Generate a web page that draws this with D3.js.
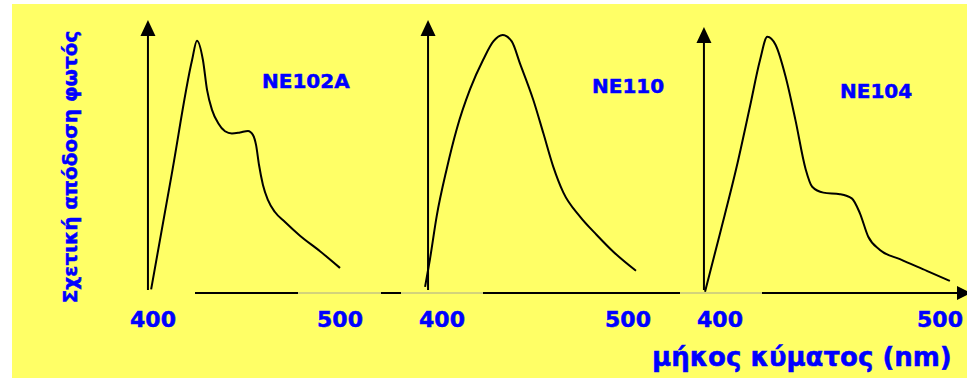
<!DOCTYPE html>
<html>
<head>
<meta charset="utf-8">
<script src="https://cdn.jsdelivr.net/npm/d3@7"></script>
<style>
  html, body { margin: 0; padding: 0; background: #ffffff; }
  svg { display: block; }
  text { paint-order: stroke; stroke: #0000ff; stroke-width: 0.5px; }
</style>
</head>
<body>
<svg id="chart" width="967" height="378"></svg>
<script>
// Emission spectra of three plastic scintillators (relative light yield vs wavelength, nm)
const scintillators = ["NE102A", "NE110", "NE104"];
const tickValues = [400, 500];
const yAxisTitle = "Σχετική απόδοση φωτός";
const xAxisTitle = "μήκος κύματος (nm)";

const ne102aWavelength = [399, 410, 420.9, 423.5, 426.7, 428.9, 431.6, 434.8, 438.5, 442.2, 446.5, 450.8, 453.5, 455.1, 456.7, 458.8, 461.5, 465.2, 470.6, 478.6, 489.3, 500];
const ne102aYield      = [0.014, 0.46, 0.903, 0.978, 0.903, 0.787, 0.709, 0.659, 0.627, 0.618, 0.622, 0.628, 0.612, 0.574, 0.496, 0.419, 0.36, 0.314, 0.275, 0.222, 0.162, 0.097];

const ne110Wavelength = [390.9, 393.5, 397.2, 402.5, 407.9, 415.1, 422.2, 427.6, 432.6, 437.5, 441.9, 449.1, 454.5, 459.8, 465.2, 474.2, 483.2, 492.1, 504.3];
const ne110Yield      = [0.024, 0.13, 0.30, 0.48, 0.635, 0.79, 0.905, 0.975, 1.0, 0.975, 0.89, 0.748, 0.619, 0.49, 0.39, 0.296, 0.225, 0.16, 0.086];

const ne104Wavelength = [393.2, 400, 407.6, 413.6, 418.2, 421.5, 425.3, 429.8, 434.3, 438.9, 441.9, 447, 454.5, 459.9, 463.6, 467.4, 472.7, 481.8, 494, 504.5];
const ne104Yield      = [0.005, 0.231, 0.49, 0.722, 0.903, 0.993, 0.961, 0.839, 0.67, 0.481, 0.412, 0.389, 0.383, 0.367, 0.309, 0.218, 0.167, 0.131, 0.086, 0.047];

// wavelength at which each panel's vertical axis stands
const yAxisWavelength = [397.3, 392.5, 392.7];

const spectra = [
  { name: scintillators[0], wl: ne102aWavelength, val: ne102aYield },
  { name: scintillators[1], wl: ne110Wavelength, val: ne110Yield },
  { name: scintillators[2], wl: ne104Wavelength, val: ne104Yield }
];

// ---- layout ----
const W = 967, H = 378;
const FONT = "'Comic Sans MS', 'DejaVu Sans', sans-serif";
const BLUE = "#0000ff";
const panels = [
  { x400: 153, x500: 340, axisTop: 20, label: [262, 88] },
  { x400: 442, x500: 628, axisTop: 20, label: [592, 93] },
  { x400: 720, x500: 940, axisTop: 27, label: [840, 98] }
];
const baseY = 293;
const y = d3.scaleLinear().domain([0, 1]).range([baseY, 35]);

const svg = d3.select("#chart");

svg.append("rect")
  .attr("x", 12).attr("y", 4)
  .attr("width", W - 12).attr("height", H - 4)
  .attr("fill", "#ffff66");

// horizontal wavelength axis: black line with faint grey stretches
const axisPieces = [
  [195, 298, "#000", 2], [298, 381, "#a8a890", 1], [381, 401, "#000", 2],
  [401, 483, "#a8a890", 1], [483, 680, "#000", 2], [680, 762, "#a8a890", 1],
  [762, 958, "#000", 2]
];
svg.append("g").selectAll("line").data(axisPieces).join("line")
  .attr("x1", d => d[0]).attr("x2", d => d[1])
  .attr("y1", baseY).attr("y2", baseY)
  .attr("stroke", d => d[2]).attr("stroke-width", d => d[3]);
svg.append("path")
  .attr("d", `M957,${baseY - 7} L971,${baseY} L957,${baseY + 7} Z`)
  .attr("fill", "#000");

const line = d3.line().curve(d3.curveMonotoneX);

spectra.forEach((s, i) => {
  const p = panels[i];
  const x = d3.scaleLinear().domain([400, 500]).range([p.x400, p.x500]);
  const g = svg.append("g");

  // vertical axis with arrowhead
  const ax = x(yAxisWavelength[i]);
  g.append("line")
    .attr("x1", ax).attr("x2", ax)
    .attr("y1", baseY - 3).attr("y2", p.axisTop + 12)
    .attr("stroke", "#000").attr("stroke-width", 2);
  g.append("path")
    .attr("d", `M${ax},${p.axisTop} L${ax + 7.5},${p.axisTop + 16} L${ax - 7.5},${p.axisTop + 16} Z`)
    .attr("fill", "#000");

  // spectrum curve
  const pts = s.wl.map((w, k) => [x(w), y(s.val[k])]);
  g.append("path")
    .attr("d", line(pts))
    .attr("fill", "none")
    .attr("stroke", "#000")
    .attr("stroke-width", 2)
    .attr("stroke-linejoin", "round");

  // tick labels
  g.selectAll("text.tick").data(tickValues).join("text")
    .attr("class", "tick")
    .attr("x", d => x(d))
    .attr("y", 327)
    .attr("text-anchor", "middle")
    .attr("font-family", FONT)
    .attr("font-weight", "bold")
    .attr("font-size", 22)
    .attr("fill", BLUE)
    .text(d => d);

  // scintillator name
  g.append("text")
    .attr("x", p.label[0]).attr("y", p.label[1])
    .attr("font-family", FONT)
    .attr("font-weight", "bold")
    .attr("font-size", 20)
    .attr("fill", BLUE)
    .text(s.name);
});

// axis titles
svg.append("text")
  .attr("transform", "translate(77,167) rotate(-90)")
  .attr("text-anchor", "middle")
  .attr("font-family", FONT)
  .attr("font-weight", "bold")
  .attr("font-size", 20)
  .attr("fill", BLUE)
  .text(yAxisTitle);

svg.append("text")
  .attr("x", 652).attr("y", 366)
  .attr("font-family", FONT)
  .attr("font-weight", "bold")
  .attr("font-size", 26)
  .attr("fill", BLUE)
  .text(xAxisTitle);
</script>
</body>
</html>
